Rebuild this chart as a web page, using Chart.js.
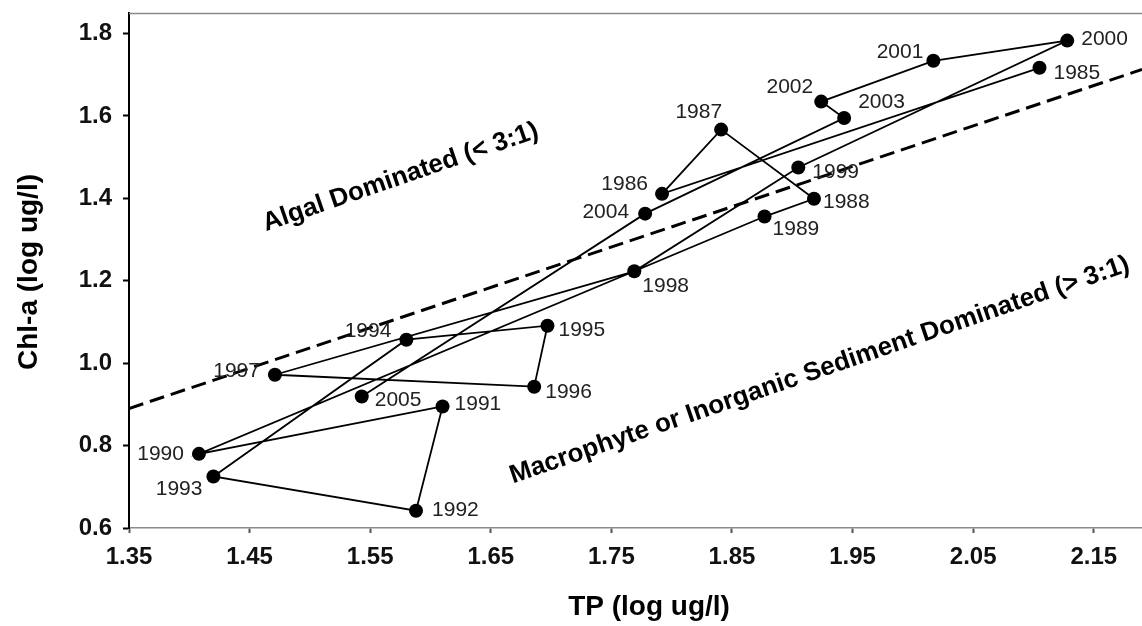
<!DOCTYPE html>
<html>
<head>
<meta charset="utf-8">
<script src="https://cdn.jsdelivr.net/npm/chart.js@4/dist/chart.umd.min.js"></script>
<style>
  html, body { margin: 0; padding: 0; background: #fff; }
  #c { display: block; }
</style>
</head>
<body>
<canvas id="c" width="1142" height="626"></canvas>
<script>
// Annual means, log10 scale
const years = [1985, 1986, 1987, 1988, 1989, 1990, 1991, 1992, 1993, 1994, 1995,
               1996, 1997, 1998, 1999, 2000, 2001, 2002, 2003, 2004, 2005];
const tp    = [2.105, 1.792, 1.841, 1.918, 1.877, 1.408, 1.610, 1.588, 1.420, 1.580, 1.697,
               1.686, 1.471, 1.769, 1.905, 2.128, 2.017, 1.924, 1.943, 1.778, 1.543];
const chla  = [1.717, 1.411, 1.567, 1.399, 1.356, 0.780, 0.895, 0.642, 0.725, 1.057, 1.091,
               0.943, 0.972, 1.223, 1.475, 1.783, 1.734, 1.635, 1.595, 1.363, 0.919];

// 3:1 TP:Chl-a boundary
const ratioTP  = [1.35, 2.19];
const ratioChl = [0.890, 1.713];

const xTicks = [1.35, 1.45, 1.55, 1.65, 1.75, 1.85, 1.95, 2.05, 2.15];
const yTicks = [0.6, 0.8, 1.0, 1.2, 1.4, 1.6, 1.8];

const FONT = '"Liberation Sans", Arial, Helvetica, sans-serif';

// Where each year label sits relative to its point
const labelPlacement = {
  1985: [14, 5, 'left'],   1986: [-14, -10, 'right'], 1987: [1, -17, 'right'],
  1988: [9, 3, 'left'],    1989: [8, 13, 'left'],     1990: [-15, 0, 'right'],
  1991: [12, -2, 'left'],  1992: [16, 0, 'left'],     1993: [-11, 13, 'right'],
  1994: [-15, -9, 'right'],1995: [11, 4, 'left'],     1996: [11, 6, 'left'],
  1997: [-15, -4, 'right'],1998: [8, 15, 'left'],     1999: [14, 5, 'left'],
  2000: [14, -1, 'left'],  2001: [-10, -9, 'right'],  2002: [-8, -14, 'right'],
  2003: [14, -16, 'left'], 2004: [-16, -1, 'right'],  2005: [13, 4, 'left']
};

const series = years.map((y, i) => ({ x: tp[i], y: chla[i] }));
const ratioLine = ratioTP.map((x, i) => ({ x: x, y: ratioChl[i] }));

const decorations = {
  id: 'decorations',
  afterDatasetsDraw(chart) {
    const ctx = chart.ctx;
    const area = chart.chartArea;
    const xs = chart.scales.x, ys = chart.scales.y;
    ctx.save();

    // top frame line
    ctx.strokeStyle = '#8a8a8a';
    ctx.lineWidth = 1.5;
    ctx.beginPath();
    ctx.moveTo(area.left, area.top + 0.5);
    ctx.lineTo(area.right, area.top + 0.5);
    ctx.stroke();

    // year labels
    ctx.fillStyle = '#222';
    ctx.font = '21px ' + FONT;
    ctx.textBaseline = 'middle';
    years.forEach((yr, i) => {
      const p = labelPlacement[yr];
      ctx.textAlign = p[2];
      ctx.fillText(String(yr), xs.getPixelForValue(tp[i]) + p[0], ys.getPixelForValue(chla[i]) + p[1]);
    });

    // region annotations
    ctx.fillStyle = '#000';
    ctx.font = 'bold 26px ' + FONT;
    ctx.textAlign = 'center';
    ctx.textBaseline = 'alphabetic';
    const rot = -19 * Math.PI / 180;
    [['Algal Dominated (< 3:1)', 403, 184],
     ['Macrophyte or Inorganic Sediment Dominated (> 3:1)', 822, 377]].forEach(t => {
      ctx.save();
      ctx.translate(t[1], t[2]);
      ctx.rotate(rot);
      ctx.fillText(t[0], 0, 0);
      ctx.restore();
    });

    // axis titles
    ctx.font = 'bold 28px ' + FONT;
    ctx.fillText('TP (log ug/l)', 649, 615);
    ctx.save();
    ctx.translate(37, 272);
    ctx.rotate(-Math.PI / 2);
    ctx.fillText('Chl-a (log ug/l)', 0, 0);
    ctx.restore();

    ctx.restore();
  }
};

new Chart(document.getElementById('c'), {
  type: 'scatter',
  data: {
    datasets: [
      {
        data: series,
        showLine: true,
        borderColor: '#000',
        borderWidth: 1.8,
        pointRadius: 7,
        pointBackgroundColor: '#000',
        pointBorderColor: '#000',
        pointBorderWidth: 0,
        tension: 0
      },
      {
        data: ratioLine,
        showLine: true,
        borderColor: '#000',
        borderWidth: 3,
        borderDash: [15, 7],
        pointRadius: 0
      }
    ]
  },
  options: {
    responsive: false,
    animation: false,
    layout: { autoPadding: false, padding: { top: 13, right: 0, left: 0, bottom: 0 } },
    plugins: { legend: { display: false }, tooltip: { enabled: false } },
    scales: {
      x: {
        type: 'linear',
        min: 1.35,
        max: 2.19,
        afterBuildTicks: s => { s.ticks = xTicks.map(v => ({ value: v })); },
        afterFit: s => { s.height = 98; s.paddingLeft = 0; s.paddingRight = 0; },
        ticks: {
          callback: v => Number(v).toFixed(2),
          font: { family: FONT, size: 24, weight: 'bold' },
          color: '#111',
          padding: 10,
          maxRotation: 0,
          autoSkip: false
        },
        grid: { drawOnChartArea: false, drawTicks: true, tickLength: 5, tickColor: '#555', tickWidth: 2 },
        border: { color: '#8a8a8a', width: 1.5 }
      },
      y: {
        type: 'linear',
        min: 0.6,
        max: 1.85,
        afterBuildTicks: s => { s.ticks = yTicks.map(v => ({ value: v })); },
        afterFit: s => { s.width = 129; s.paddingTop = 0; s.paddingBottom = 0; },
        ticks: {
          callback: v => Number(v).toFixed(1),
          font: { family: FONT, size: 24, weight: 'bold' },
          color: '#111',
          padding: 11,
          autoSkip: false
        },
        grid: { drawOnChartArea: false, drawTicks: true, tickLength: 6, tickColor: '#000', tickWidth: 2 },
        border: { color: '#000', width: 2 }
      }
    }
  },
  plugins: [decorations]
});
</script>
</body>
</html>
